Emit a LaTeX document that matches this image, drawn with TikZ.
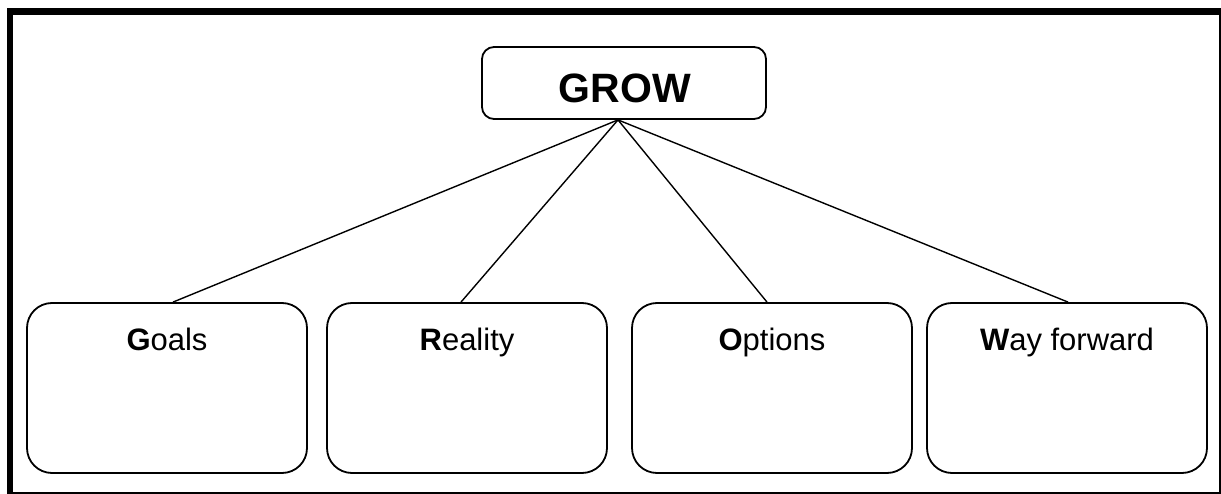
\documentclass[tikz,border=0pt]{standalone}
\usepackage{fontspec}
\setmainfont{Liberation Sans}
\begin{document}
\begin{tikzpicture}[x=1pt,y=-1pt,
  stagebox/.style={draw=black, line width=1.8pt, rounded corners=25pt,
    minimum width=280pt, minimum height=170pt, inner sep=0pt},
  topbox/.style={draw=black, line width=1.8pt, rounded corners=12pt,
    minimum width=284pt, minimum height=72pt, inner sep=0pt},
  stagetext/.style={anchor=base, inner sep=0pt, font=\fontsize{31pt}{36pt}\selectfont},
  link/.style={draw=black, line width=1.4pt}]
  \useasboundingbox (0,0) rectangle (1221,494);
  \fill[white] (0,0) rectangle (1221,494);
  % page frame: heavy top and left rules, thin right and bottom rules
  \fill[black] (7,8) rectangle (1220.5,15);
  \fill[black] (7,8) rectangle (13,493.5);
  \fill[black] (1218.5,8) rectangle (1220.5,493.5);
  \fill[black] (7,492) rectangle (1220.5,493.5);
  % heading
  \node[topbox] (grow) at (624,83) {};
  \node[anchor=base, inner sep=0pt, font=\fontsize{41pt}{48pt}\selectfont\bfseries] (growtext) at (625,103) {GROW};
  % the four stages
  \node[stagebox] (g) at (167,388) {};
  \node[stagebox] (r) at (467,388) {};
  \node[stagebox] (o) at (772,388) {};
  \node[stagebox] (w) at (1067,388) {};
  \node[stagetext] (gtext) at (167,351) {\textbf{G}oals};
  \node[stagetext] (rtext) at (467,351) {\textbf{R}eality};
  \node[stagetext] (otext) at (772,351) {\textbf{O}ptions};
  \node[stagetext] (wtext) at (1067,351) {\textbf{W}ay forward};
  % connectors
  \draw[link] ([xshift=-6pt]grow.south) -- ([xshift=6pt]g.north);
  \draw[link] ([xshift=-6pt]grow.south) -- ([xshift=-6pt]r.north);
  \draw[link] ([xshift=-6pt]grow.south) -- ([xshift=-5pt]o.north);
  \draw[link] ([xshift=-6pt]grow.south) -- ([xshift=1pt]w.north);
\end{tikzpicture}
\end{document}
